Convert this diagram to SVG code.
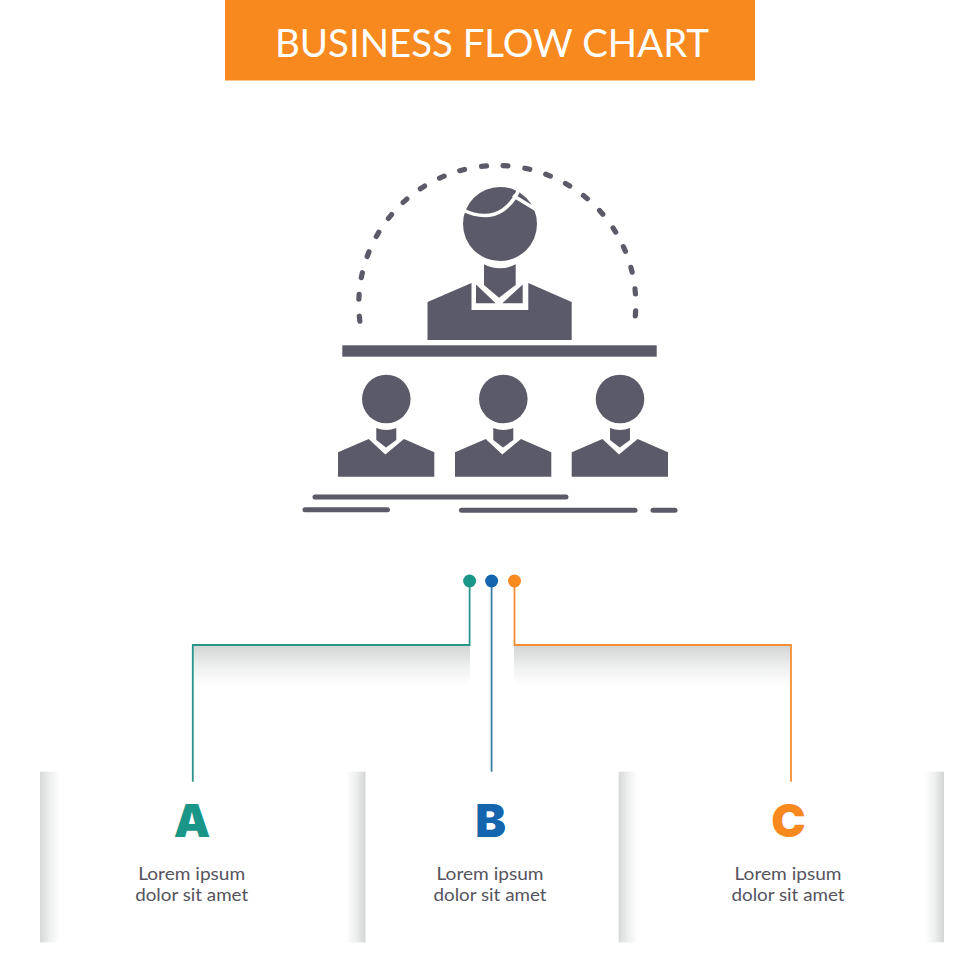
<svg xmlns="http://www.w3.org/2000/svg" width="980" height="980" viewBox="0 0 980 980">
<style>
.ic{fill:#5b5a68}
.dash{fill:none;stroke:#5b5a68;stroke-width:5.2;stroke-linecap:round}
.bar{fill:none;stroke:#5b5a68;stroke-width:5;stroke-linecap:round}
.hair{fill:none;stroke:#fff;stroke-width:3.6}
.title{font-family:"Lato","Liberation Sans",sans-serif;font-size:38px;fill:#fff;text-anchor:middle}
.letter{font-family:"Inter","Liberation Sans",sans-serif;font-size:46px;font-weight:900;text-anchor:middle}
.body{font-family:"Lato","Liberation Sans",sans-serif;font-size:18px;fill:#55545e;text-anchor:middle}
.conn{fill:none;stroke-width:1.8}
</style>
<defs>
<linearGradient id="gv" x1="0" y1="0" x2="0" y2="1"><stop offset="0" stop-color="#d3d4d4"/><stop offset=".45" stop-color="#eceded"/><stop offset="1" stop-color="#fff"/></linearGradient>
<linearGradient id="gl" x1="0" y1="0" x2="1" y2="0"><stop offset="0" stop-color="#d6d7d7"/><stop offset=".5" stop-color="#eeefef"/><stop offset="1" stop-color="#fff"/></linearGradient>
<linearGradient id="gr" x1="1" y1="0" x2="0" y2="0"><stop offset="0" stop-color="#d3d4d4"/><stop offset=".5" stop-color="#eeefef"/><stop offset="1" stop-color="#fff"/></linearGradient>
<g id="person">
<circle class="ic" cx="386.3" cy="399" r="24.3"/>
<path class="ic" d="M376.3 428A28 28 0 0 0 396.3 428V440L386 447.5L376.3 440Z"/>
<path class="ic" d="M338 476.7V452.3L368.7 439L385.3 454.5L404 439L434.3 452.3V476.7Z"/>
</g>
</defs>
<rect width="980" height="980" fill="#fff"/>
<g id="header">
<rect x="225" y="0" width="530" height="80.5" fill="#f7891f"/>
<text class="title" x="492" y="56.5" textLength="434" lengthAdjust="spacingAndGlyphs">BUSINESS FLOW CHART</text>
</g>
<g id="icon">
<g id="arc" transform="translate(497.3 304)">
<path class="dash" d="M-2.5 -138.5H2.5" transform="rotate(-96.1)"/>
<path class="dash" d="M-2.5 -138.5H2.5" transform="rotate(-87)"/>
<path class="dash" d="M-2.5 -138.5H2.5" transform="rotate(-78)"/>
<path class="dash" d="M-2.5 -138.5H2.5" transform="rotate(-68.9)"/>
<path class="dash" d="M-2.5 -138.5H2.5" transform="rotate(-59.8)"/>
<path class="dash" d="M-2.5 -138.5H2.5" transform="rotate(-50.8)"/>
<path class="dash" d="M-2.5 -138.5H2.5" transform="rotate(-41.8)"/>
<path class="dash" d="M-2.5 -138.5H2.5" transform="rotate(-32.7)"/>
<path class="dash" d="M-2.5 -138.5H2.5" transform="rotate(-23.6)"/>
<path class="dash" d="M-2.5 -138.5H2.5" transform="rotate(-14.7)"/>
<path class="dash" d="M-2.5 -138.5H2.5" transform="rotate(-5.5)"/>
<path class="dash" d="M-2.5 -138.5H2.5" transform="rotate(3.4)"/>
<path class="dash" d="M-2.5 -138.5H2.5" transform="rotate(12.5)"/>
<path class="dash" d="M-2.5 -138.5H2.5" transform="rotate(21.5)"/>
<path class="dash" d="M-2.5 -138.5H2.5" transform="rotate(30.5)"/>
<path class="dash" d="M-2.5 -138.5H2.5" transform="rotate(39.5)"/>
<path class="dash" d="M-2.5 -138.5H2.5" transform="rotate(48.6)"/>
<path class="dash" d="M-2.5 -138.5H2.5" transform="rotate(57.7)"/>
<path class="dash" d="M-2.5 -138.5H2.5" transform="rotate(66.6)"/>
<path class="dash" d="M-2.5 -138.5H2.5" transform="rotate(75.7)"/>
<path class="dash" d="M-2.5 -138.5H2.5" transform="rotate(84.8)"/>
<path class="dash" d="M-2.5 -138.5H2.5" transform="rotate(93.9)"/>
</g>
<g id="trainer">
<circle class="ic" cx="500" cy="224" r="37"/>
<path class="hair" d="M462 209.5C475 216 490 218.5 503 210C511 204 516 197 519 189"/>
<path class="hair" d="M513 195.5L540 212"/>
<path class="ic" d="M484 264.3A34 34 0 0 0 515.7 264.3V285L499 297.7L484 285Z"/>
<path class="ic" d="M427.5 340V302L471.5 283V310H528.3V283L571.7 302V340Z"/>
<path class="ic" d="M476 284.5L495.7 303.3H476Z"/>
<path class="ic" d="M522.7 284.5L502.3 303.3H522.7Z"/>
<rect class="ic" x="342.3" y="345.3" width="314.4" height="11.4"/>
</g>
<use id="student-1" href="#person"/>
<use id="student-2" href="#person" x="117"/>
<use id="student-3" href="#person" x="233.7"/>
<g id="text-lines">
<path class="bar" d="M315 497H566"/>
<path class="bar" d="M305 509.7H387.5"/>
<path class="bar" d="M461.5 510.3H635"/>
<path class="bar" d="M653 510.3H675"/>
</g>
</g>
<g id="shadows">
<rect x="193" y="646" width="277" height="40" fill="url(#gv)"/>
<rect x="514" y="646" width="277" height="40" fill="url(#gv)"/>
</g>
<g id="connectors">
<path class="conn" stroke="#2a9689" d="M469.6 581V645H192.8V781.7"/>
<path class="conn" stroke="#3a7ea6" d="M491.6 581V771.7"/>
<path class="conn" stroke="#f58f35" d="M514.5 581V645H791V781.7"/>
<circle cx="469.6" cy="581" r="6.5" fill="#1a9688"/>
<circle cx="491.6" cy="581" r="6.5" fill="#1464ae"/>
<circle cx="514.5" cy="581" r="6.5" fill="#f7891f"/>
</g>
<g id="node-a">
<rect x="40" y="771.7" width="20" height="170.6" fill="url(#gl)"/>
<text class="letter" x="192" y="837" fill="#1a9688">A</text>
<text class="body" x="191.7" y="880" textLength="107" lengthAdjust="spacingAndGlyphs">Lorem ipsum</text>
<text class="body" x="191.7" y="900.7" textLength="113" lengthAdjust="spacingAndGlyphs">dolor sit amet</text>
</g>
<g id="node-b">
<rect x="346" y="771.7" width="19.5" height="170.6" fill="url(#gr)"/>
<text class="letter" x="490.5" y="837" fill="#1464ae">B</text>
<text class="body" x="490" y="880" textLength="107" lengthAdjust="spacingAndGlyphs">Lorem ipsum</text>
<text class="body" x="490" y="900.7" textLength="113" lengthAdjust="spacingAndGlyphs">dolor sit amet</text>
</g>
<g id="node-c">
<rect x="618.7" y="771.7" width="19" height="170.6" fill="url(#gl)"/>
<rect x="925" y="771.7" width="19" height="170.6" fill="url(#gr)"/>
<text class="letter" x="788.5" y="837" fill="#f7891f">C</text>
<text class="body" x="788" y="880" textLength="107" lengthAdjust="spacingAndGlyphs">Lorem ipsum</text>
<text class="body" x="788" y="900.7" textLength="113" lengthAdjust="spacingAndGlyphs">dolor sit amet</text>
</g>
</svg>
